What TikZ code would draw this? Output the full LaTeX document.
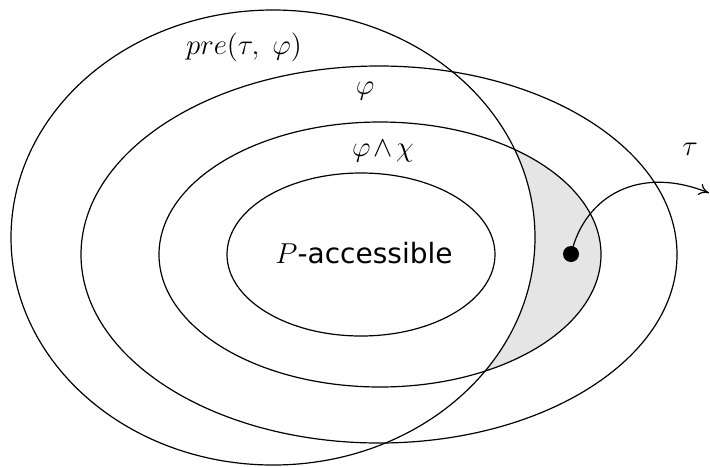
\documentclass[tikz,border=0pt]{standalone}
\usepackage{fontspec}
\newfontfamily\dejavu{DejaVu Sans}
\usetikzlibrary{arrows.meta}
\begin{document}
\begin{tikzpicture}[x=0.5pt,y=-0.5pt,
  set/.style={line width=0.6pt},
  lbl/.style={inner sep=0pt,font=\fontsize{14}{17}\selectfont},
  dotnode/.style={circle,fill=black,inner sep=0pt,minimum size=8pt},
  shade/.style={fill=black!10}]
\useasboundingbox (0,0) rectangle (710,466);
% shaded region: inside phi-and-chi, outside pre
\begin{scope}
  \clip (380,254.5) ellipse (221 and 132.5);
  \fill[shade,even odd rule] (0,0) rectangle (710,466) (273,237.5) ellipse (262 and 227.5);
\end{scope}
\draw[set] (273,237.5) ellipse (262 and 227.5);
\draw[set] (379,254.5) ellipse (298 and 188.5);
\draw[set] (380,254.5) ellipse (221 and 132.5);
\draw[set] (361,254.5) ellipse (134 and 81.5);
\node[lbl] (lpre) at (244,47) {$pre(\tau,\;\varphi)$};
\node[lbl] (lphi) at (365,91) {$\varphi$};
\node[lbl] (lphichi) at (383,151) {$\varphi\mskip2mu{\wedge}\mskip2mu\chi$};
\node[lbl] (lP) at (364,253) {$P$\dejavu -accessible};
\node[lbl] (ltau) at (690,149) {$\tau$};
\node[dotnode] (dot) at (571,254) {};
\coordinate (tend) at (709,193);
\draw[set,-{To[length=5pt,width=6pt]}] (dot.center) .. controls (585,195) and (640,165) .. (tend);
\end{tikzpicture}
\end{document}
